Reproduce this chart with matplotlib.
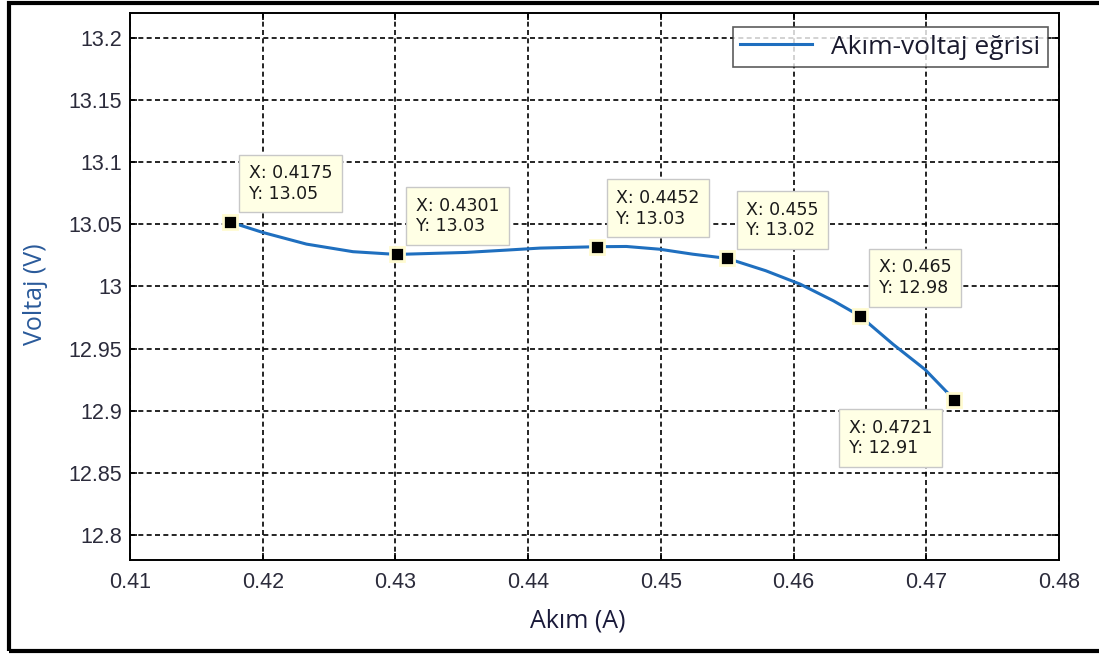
import matplotlib
matplotlib.use("Agg")
import matplotlib.pyplot as plt
from matplotlib.patches import Rectangle

# current-voltage curve points
curve_x = [0.4175, 0.4200, 0.4233, 0.4268, 0.4301, 0.4353, 0.4384, 0.4409,
           0.4452, 0.4474, 0.4499, 0.4524, 0.4550, 0.4579, 0.4605, 0.4630,
           0.4650, 0.4675, 0.4699, 0.4721]
curve_y = [13.052, 13.0435, 13.0341, 13.028, 13.0258, 13.0274, 13.0293, 13.0309,
           13.032, 13.0322, 13.030, 13.026, 13.0226, 13.0127, 13.0019, 12.9885,
           12.9763, 12.9535, 12.9333, 12.909]

# data tips
tip_x = [0.4175, 0.4301, 0.4452, 0.455, 0.465, 0.4721]
tip_y = [13.052, 13.0258, 13.032, 13.0226, 12.9763, 12.909]

x_ticks = [0.41, 0.42, 0.43, 0.44, 0.45, 0.46, 0.47, 0.48]
y_ticks = [12.8, 12.85, 12.9, 12.95, 13.0, 13.05, 13.1, 13.15, 13.2]
x_ticklabels = ["0.41", "0.42", "0.43", "0.44", "0.45", "0.46", "0.47", "0.48"]
y_ticklabels = ["12.8", "12.85", "12.9", "12.95", "13", "13.05", "13.1", "13.15", "13.2"]

line_color = "#1f6fbf"
tick_color = "#2b2b3b"

fig = plt.figure(figsize=(10.99, 6.54), dpi=100)
ax = fig.add_axes([130 / 1099, 1 - 560 / 654, 929 / 1099, 547 / 654])

ax.plot(curve_x, curve_y, color=line_color, lw=2.2, label="Akım-voltaj eğrisi", zorder=3)
ax.plot(tip_x, tip_y, ls="none", marker="s", ms=10, mfc="black", mec="#fffbd0",
        mew=2, zorder=4)

for i, (tx, ty) in enumerate(zip(tip_x, tip_y)):
    txt = "X: %.4g\nY: %.4g" % (tx, ty)
    # last tip sits below-left of its point, the others above-right
    if i == len(tip_x) - 1:
        off, ha, va = (-22, -19), "right", "top"
    else:
        off, ha, va = (19, 19), "left", "bottom"
    ax.annotate(txt, (tx, ty), xytext=off, textcoords="offset pixels",
                ha=ha, va=va, multialignment="left", fontsize=12.5,
                family="DejaVu Sans", color="#1a1a1a", linespacing=1.2,
                bbox=dict(boxstyle="square,pad=0.55", fc="#ffffe5", ec="#c8c8c8", lw=1),
                zorder=5)

ax.set_xlim(0.41, 0.48)
ax.set_ylim(12.78, 13.22)
ax.set_xticks(x_ticks)
ax.set_xticklabels(x_ticklabels)
ax.set_yticks(y_ticks)
ax.set_yticklabels(y_ticklabels)
ax.tick_params(direction="in", length=5, width=1.2, top=True, right=True,
               labelsize=15.5, labelcolor=tick_color, pad=6)
for lab in ax.get_xticklabels() + ax.get_yticklabels():
    lab.set_family("Liberation Sans")
ax.tick_params(axis="x", pad=9)

ax.grid(True, color="black", ls=(0, (3, 2)), lw=1.2)
for s in ax.spines.values():
    s.set_linewidth(1.4)

leg = ax.legend(loc="upper right", bbox_to_anchor=(0.988, 0.974), borderaxespad=0,
                prop={"family": "Open Sans", "size": 19}, fancybox=False,
                handlelength=2.7, handletextpad=0.75, borderpad=0.28)
leg.get_frame().set_edgecolor("#333333")
leg.get_frame().set_linewidth(1.2)
for t in leg.get_texts():
    t.set_color("#1a1a2e")

fig.text(578 / 1099, 1 - 621 / 654, "Akım (A)", ha="center", va="center",
         family="Open Sans", fontsize=18, color="#1a1a3a")
fig.text(35 / 1099, 1 - 294 / 654, "Voltaj (V)", ha="center", va="center",
         rotation=90, family="Open Sans", fontsize=18, color="#2a5a9a")

# outer frame
fig.patches.append(Rectangle((9 / 1099, 3 / 654), 1.02, 1 - 6 / 654,
                             transform=fig.transFigure, fill=False,
                             ec="black", lw=3))

fig.savefig("out.png", dpi=100)
